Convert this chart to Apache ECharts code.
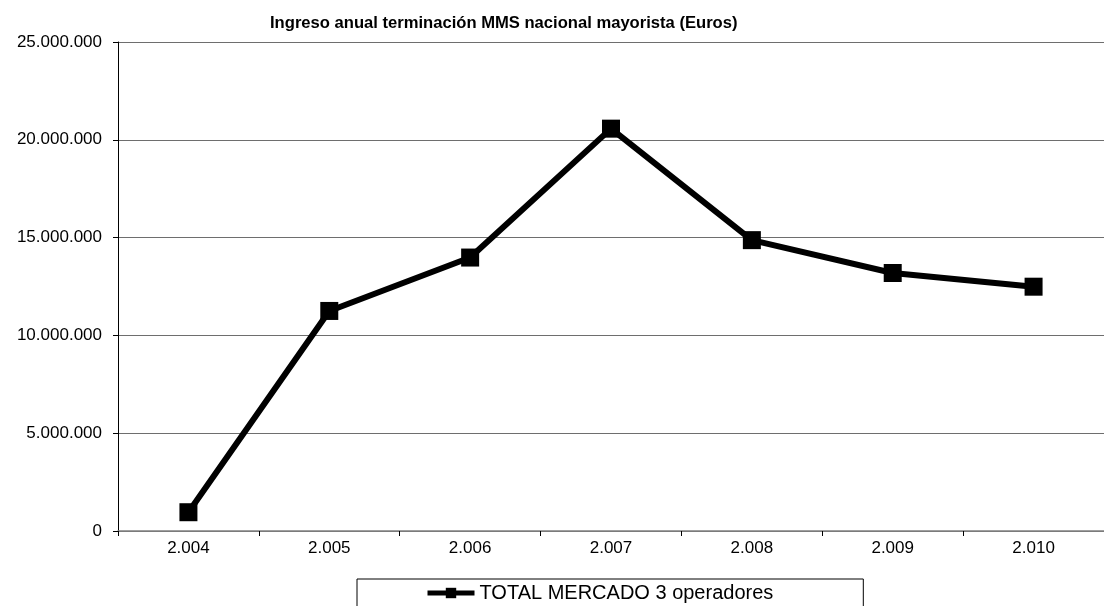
<!DOCTYPE html>
<html>
<head>
<meta charset="utf-8">
<script src="https://cdn.jsdelivr.net/npm/echarts@6/dist/echarts.min.js"></script>
<style>html,body{margin:0;padding:0;background:#fff;}#c{width:1104px;height:606px;}</style>
</head>
<body>
<div id="c"></div>
<script>
const categories = ['2.004', '2.005', '2.006', '2.007', '2.008', '2.009', '2.010'];
const totalMercado = [960000, 11250000, 13980000, 20570000, 14870000, 13190000, 12490000];
const seriesName = 'TOTAL MERCADO 3 operadores';
const titleText = 'Ingreso anual terminación MMS nacional mayorista (Euros)';

const FONT = '"Liberation Sans", Arial, sans-serif';
function fmt(v) {
  return String(Math.round(v)).replace(/\B(?=(\d{3})+(?!\d))/g, '.');
}
const chart = echarts.init(document.getElementById('c'), null, {renderer: 'canvas'});
chart.setOption({
  animation: false,
  backgroundColor: '#fff',
  title: {
    text: titleText,
    left: 265,
    top: 10,
    textStyle: {fontFamily: FONT, fontSize: 16.6, fontWeight: 'bold', color: '#000'}
  },
  grid: {left: 118, right: -4, top: 42, bottom: 75, containLabel: false},
  legend: {
    data: [seriesName],
    left: 357,
    top: 579,
    padding: [4, 90, 30, 68],
    borderColor: '#000',
    borderWidth: 1,
    itemWidth: 47,
    itemHeight: 13,
    itemStyle: {color: '#000'},
    lineStyle: {width: 5, color: '#000'},
    textStyle: {fontFamily: FONT, fontSize: 20, color: '#000'}
  },
  xAxis: {
    type: 'category',
    data: categories,
    boundaryGap: true,
    axisLine: {lineStyle: {color: '#808080', width: 1.5}},
    axisTick: {show: true, length: 5, lineStyle: {color: '#000'}},
    axisLabel: {fontFamily: FONT, fontSize: 17, color: '#000', margin: 9}
  },
  yAxis: {
    type: 'value',
    min: 0,
    max: 25000000,
    interval: 5000000,
    axisLine: {show: true, lineStyle: {color: '#000', width: 1}},
    axisTick: {show: true, length: 5, lineStyle: {color: '#000'}},
    splitLine: {show: true, lineStyle: {color: '#6e6e6e', width: 1}},
    axisLabel: {fontFamily: FONT, fontSize: 17, color: '#000', margin: 16, formatter: fmt}
  },
  series: [{
    name: seriesName,
    type: 'line',
    data: totalMercado,
    symbol: 'rect',
    symbolSize: 18,
    itemStyle: {color: '#000'},
    lineStyle: {color: '#000', width: 6},
    z: 5
  }]
});
</script>
</body>
</html>
